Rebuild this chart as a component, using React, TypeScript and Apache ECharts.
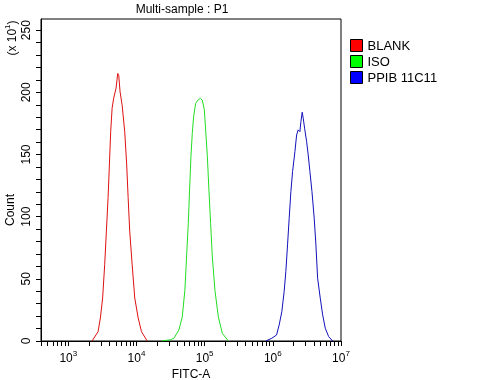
import React, { useEffect, useRef } from "react";
import * as echarts from "echarts";

// FITC-A positions as log10(intensity), counts in units of 10^1
const blankLog = [3.349, 3.437, 3.471, 3.504, 3.534, 3.559, 3.584, 3.603, 3.622, 3.643, 3.666, 3.701, 3.725, 3.740, 3.760, 3.790, 3.828, 3.857, 3.878, 3.901, 3.937, 3.975, 4.025, 4.074, 4.157];
const blankCount = [0, 7.5, 18.5, 34.6, 61.3, 88.4, 115.4, 141.5, 168.3, 187.3, 195.3, 203.4, 215.2, 213.8, 200.4, 189.7, 168.3, 141.5, 115.4, 88.4, 61.3, 34.6, 18.5, 7.5, 0];

const isoLog = [4.368, 4.5, 4.549, 4.622, 4.672, 4.710, 4.735, 4.760, 4.779, 4.799, 4.819, 4.838, 4.868, 4.901, 4.937, 4.966, 4.996, 5.015, 5.040, 5.063, 5.088, 5.113, 5.151, 5.201, 5.260, 5.349];
const isoCount = [0, 1, 2.2, 8.8, 19.4, 40.8, 67.6, 94.4, 121.4, 148.2, 167, 180.4, 191.1, 193.7, 195.1, 193.7, 185.7, 169.6, 148.2, 121.4, 94.4, 67.6, 40.8, 19.4, 6.1, 0];

const ppibLog = [5.897, 5.985, 6.054, 6.093, 6.132, 6.166, 6.191, 6.216, 6.240, 6.265, 6.290, 6.324, 6.349, 6.372, 6.397, 6.412, 6.431, 6.446, 6.466, 6.496, 6.519, 6.544, 6.574, 6.607, 6.632, 6.657, 6.696, 6.731, 6.769, 6.819, 6.878];
const ppibCount = [0, 2.2, 4.8, 12.9, 23.6, 39.7, 55.8, 77.3, 98.7, 120.2, 136.3, 152.3, 165.7, 169.8, 168.4, 176.5, 184, 179.2, 171.2, 160.4, 149.7, 136.3, 120.2, 98.7, 77.3, 50.5, 34.4, 21, 10.3, 3.5, 0];

const seriesNames = ["BLANK", "ISO", "PPIB 11C11"];
const xDecades = [3, 4, 5, 6, 7];
const yLabels = [0, 50, 100, 150, 200, 250];

const FONT = "Liberation Sans";

export default function App() {
  const ref = useRef<HTMLDivElement>(null);
  useEffect(() => {
    if (!ref.current) return;
    const chart = echarts.init(ref.current, null, { renderer: "svg" });
    const xMin = 2.6, xMax = 7;
    const xTicks: number[] = [];
    for (let d = 2; d < 7; d++) {
      for (let m = 1; m <= 9; m++) {
        const v = d + Math.log10(m);
        if (v >= xMin - 1e-9 && v <= xMax) xTicks.push(v);
      }
    }
    xTicks.push(7);
    const yTicks: number[] = [];
    for (let v = 0; v <= 250; v += 10) yTicks.push(v);
    const zip = (a: number[], b: number[]) => a.map((x, i) => [x, b[i]]);
    const lineColors = ["#dd1111", "#22dd22", "#1111bb"];
    const legendColors = ["#ff0000", "#00ff00", "#0000ff"];
    const datasets = [zip(blankLog, blankCount), zip(isoLog, isoCount), zip(ppibLog, ppibCount)];

    chart.setOption({
      animation: false,
      textStyle: { fontFamily: FONT },
      title: {
        text: "Multi-sample : P1",
        left: 182,
        top: 3,
        padding: 0,
        textAlign: "center",
        textStyle: { fontSize: 12, fontWeight: "normal", color: "#000", fontFamily: FONT },
      },
      grid: {
        left: 41, right: 136, top: 19, bottom: 39,
        outerBoundsMode: "none",
        containLabel: false,
        show: true, borderColor: "#000", borderWidth: 1, backgroundColor: "transparent",
      },
      legend: {
        orient: "vertical",
        left: 350,
        top: 39,
        padding: 0,
        itemGap: 3,
        itemWidth: 12,
        itemHeight: 12,
        icon: "rect",
        textStyle: { fontSize: 13, color: "#000", fontFamily: FONT },
        data: seriesNames.map((n, i) => ({
          name: n,
          icon: "rect",
          itemStyle: { color: legendColors[i], borderColor: "#000", borderWidth: 1 },
        })),
      },
      xAxis: {
        type: "value",
        min: xMin,
        max: xMax,
        name: "FITC-A",
        nameLocation: "middle",
        nameGap: 26,
        nameTextStyle: { fontSize: 12, color: "#000", fontFamily: FONT },
        splitLine: { show: false },
        axisLine: { lineStyle: { color: "#000", width: 1 } },
        axisTick: { show: true, length: 5, inside: false, customValues: xTicks, lineStyle: { color: "#000" } },
        axisLabel: {
          customValues: xDecades,
          margin: 8,
          formatter: (v: number) => `{b|10}{s|${Math.round(v)}}`,
          rich: {
            b: { fontSize: 12, color: "#000", fontFamily: FONT },
            s: { fontSize: 8, color: "#000", fontFamily: FONT, padding: [0, 0, 9, 0] },
          },
        },
      },
      yAxis: {
        type: "value",
        min: 0,
        max: 259,
        splitLine: { show: false },
        axisLine: { show: true, lineStyle: { color: "#000", width: 1 } },
        axisTick: { show: true, length: 5, inside: false, customValues: yTicks, lineStyle: { color: "#000" } },
        axisLabel: {
          customValues: yLabels,
          rotate: 90,
          margin: 9,
          fontSize: 12,
          color: "#000",
          fontFamily: FONT,
        },
      },
      graphic: [
        {
          type: "text",
          x: 10,
          y: 210,
          rotation: Math.PI / 2,
          style: { text: "Count", fontSize: 12, fill: "#000", fontFamily: FONT, align: "center", verticalAlign: "middle" },
        },
        {
          type: "text",
          x: 12,
          y: 38,
          rotation: Math.PI / 2,
          style: {
            text: "{b|(x 10}{s|1}{b|)}",
            align: "center",
            verticalAlign: "middle",
            rich: {
              b: { fontSize: 12, fill: "#000", fontFamily: FONT },
              s: { fontSize: 8, fill: "#000", fontFamily: FONT, padding: [0, 0, 9, 0] },
            },
          },
        },
      ],
      series: datasets.map((d, i) => ({
        name: seriesNames[i],
        type: "line",
        data: d,
        showSymbol: false,
        symbol: "none",
        lineStyle: { width: 1, color: lineColors[i] },
        itemStyle: { color: lineColors[i] },
      })),
    });
    return () => chart.dispose();
  }, []);
  return <div ref={ref} style={{ position: "fixed", left: 0, top: 0, width: 477, height: 380 }} />;
}
